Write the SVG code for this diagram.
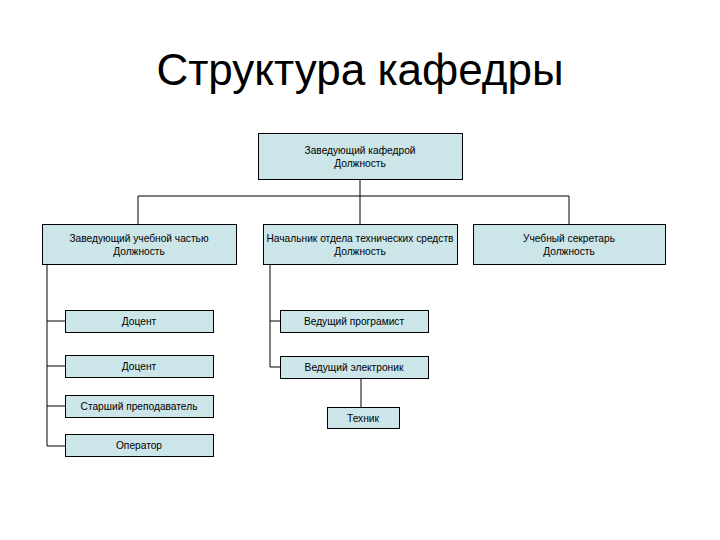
<svg xmlns="http://www.w3.org/2000/svg" width="720" height="540" viewBox="0 0 720 540">
<style>
.box{fill:#cce5e8;stroke:#000;stroke-width:1}
.t{font-family:"Liberation Sans",Arial,sans-serif;font-size:10.2px;fill:#000;text-anchor:middle}
.title{font-family:"Liberation Sans",Arial,sans-serif;font-size:44px;fill:#000;text-anchor:middle}
.c{stroke:#000;stroke-width:1;fill:none}
</style>
<rect width="720" height="540" fill="#fff"/>
<text class="title" x="360" y="85">Структура кафедры</text>
<g id="connectors">
<path class="c" d="M360 179V196M138 196H569M138 196V224M360 196V224M569 196V224"/>
<path class="c" d="M47 264V446M47 321H65M47 366H65M47 406H65M47 446H65"/>
<path class="c" d="M270 264V367M270 321H280M270 367H280M361 378V407"/>
</g>
<g id="n1"><rect class="box" x="258.5" y="133.5" width="204" height="46"/><text class="t" x="360" y="154">Заведующий кафедрой</text><text class="t" x="360" y="167">Должность</text></g>
<g id="n2"><rect class="box" x="42.5" y="224.5" width="194" height="40"/><text class="t" x="139" y="242">Заведующий учебной частью</text><text class="t" x="139" y="255">Должность</text></g>
<g id="n3"><rect class="box" x="263.5" y="224.5" width="194" height="40"/><text class="t" x="360" y="242">Начальник отдела технических средств</text><text class="t" x="360" y="255">Должность</text></g>
<g id="n4"><rect class="box" x="473.5" y="224.5" width="192" height="40"/><text class="t" x="569" y="242">Учебный секретарь</text><text class="t" x="569" y="255">Должность</text></g>
<g id="n5"><rect class="box" x="65.5" y="310.5" width="148" height="22"/><text class="t" x="139" y="325">Доцент</text></g>
<g id="n6"><rect class="box" x="65.5" y="355.5" width="148" height="22"/><text class="t" x="139" y="370">Доцент</text></g>
<g id="n7"><rect class="box" x="65.5" y="395.5" width="148" height="22"/><text class="t" x="139" y="410">Старший преподаватель</text></g>
<g id="n8"><rect class="box" x="65.5" y="434.5" width="148" height="22"/><text class="t" x="139" y="449">Оператор</text></g>
<g id="n9"><rect class="box" x="280.5" y="310.5" width="148" height="22"/><text class="t" x="354" y="325">Ведущий програмист</text></g>
<g id="n10"><rect class="box" x="280.5" y="356.5" width="148" height="22"/><text class="t" x="354" y="371">Ведущий электроник</text></g>
<g id="n11"><rect class="box" x="327.5" y="407.5" width="72" height="21"/><text class="t" x="363" y="422">Техник</text></g>
</svg>
